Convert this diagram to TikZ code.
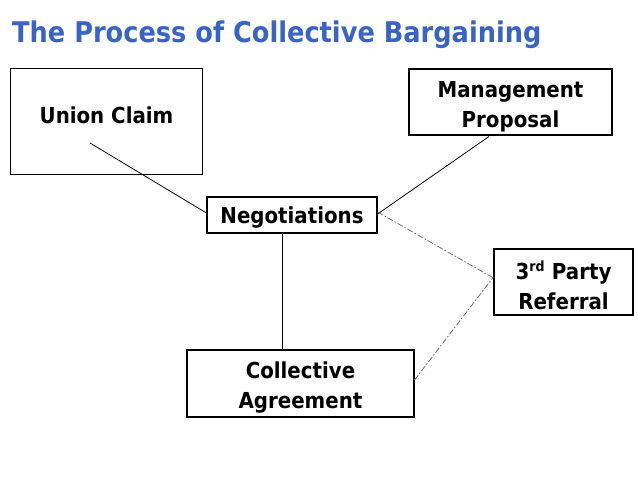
\documentclass[tikz,border=0pt]{standalone}
\usepackage{fontspec}
\setmainfont{DejaVu Sans}[FakeStretch=0.9,BoldFont={DejaVu Sans Bold},BoldFeatures={FakeStretch=0.9}]
\usetikzlibrary{calc}
\definecolor{titleblue}{RGB}{58,100,190}
\definecolor{dashgray}{RGB}{110,110,110}
\tikzset{
  box/.style={draw=black, line width=1.1pt, inner sep=0pt},
  lbl/.style={font=\bfseries\fontsize{22}{30}\selectfont, align=center, inner sep=0pt, text=black},
  conn/.style={draw=black, line width=0.8pt},
  dconn/.style={draw=dashgray, line width=0.8pt, dash pattern=on 6pt off 2pt on 1.5pt off 2pt},
}
\begin{document}
\begin{tikzpicture}[x=1pt,y=-1pt]
\useasboundingbox (0,0) rectangle (638,479);
\node[font=\bfseries\fontsize{28.5}{30}\selectfont, text=titleblue, anchor=west, inner sep=0pt] (title) at (12,34.5) {The Process of Collective Bargaining};
% boxes
\node[box, minimum width=192pt, minimum height=106pt] (union) at (106.5,121.5) {};
\node[lbl] (uniontext) at (106.5,115) {Union Claim};
\node[box, minimum width=203pt, minimum height=66pt] (mgmt) at (510.5,102) {};
\node[lbl] (mgmttext) at (510.5,106.5) {Management\\Proposal};
\node[box, minimum width=170pt, minimum height=36pt] (neg) at (292,215) {};
\node[lbl] (negtext) at (292,217.5) {Negotiations};
\node[box, minimum width=139pt, minimum height=66pt] (third) at (563.5,282) {};
\node[lbl] (thirdtext) at (563.5,285.5) {3\textsuperscript{\fontsize{14}{14}\selectfont rd} Party\\Referral};
\node[box, minimum width=227pt, minimum height=67pt] (coll) at (300.5,383.5) {};
\node[lbl] (colltext) at (300.5,387.5) {Collective\\Agreement};
% connectors
\coordinate (ua) at (90,143);
\coordinate (ma) at (489,136.5);
\draw[conn] (ua) -- ([yshift=2pt]neg.west);
\draw[conn] (ma) -- ([yshift=1pt]neg.east);
\draw[conn] ([xshift=-10pt]neg.south) -- ([xshift=-10pt]neg.south |- coll.north);
\draw[dconn] ([yshift=3pt]neg.east) -- ([yshift=4pt]third.west);
\draw[dconn] ([yshift=3.5pt]coll.east) -- ([yshift=5pt]third.west);
\end{tikzpicture}
\end{document}
